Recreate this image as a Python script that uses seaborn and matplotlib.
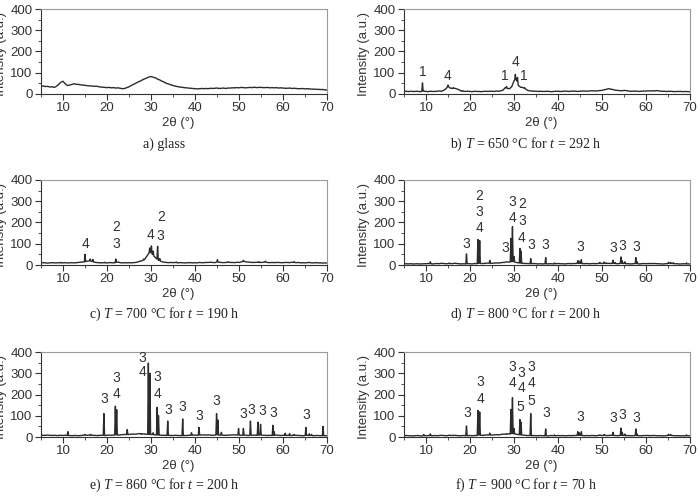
import numpy as np
import pandas as pd
import matplotlib
matplotlib.use("Agg")
import matplotlib.pyplot as plt
from matplotlib.ticker import MultipleLocator
import seaborn as sns

# ---------------- data ----------------
# background sampling grid: 5.0, 5.5, ..., 70.0 deg (each row below = 5 deg)
two_theta = np.arange(5.0, 70.25, 0.5)

bg_a = [36, 38, 35, 36, 33, 34, 31, 36, 45, 55,
        60, 48, 40, 42, 45, 48, 46, 45, 43, 42,
        41, 39, 38, 38, 36, 37, 35, 33, 32, 31,
        30, 31, 29, 30, 28, 29, 27, 25, 26, 30,
        34, 40, 45, 50, 56, 60, 66, 71, 75, 80,
        82, 79, 76, 70, 66, 60, 56, 50, 47, 43,
        40, 37, 35, 33, 32, 30, 29, 28, 27, 26,
        25, 24, 25, 26, 25, 26, 25, 27, 26, 27,
        28, 26, 27, 28, 26, 28, 28, 29, 29, 30,
        29, 31, 30, 29, 30, 31, 30, 32, 30, 31,
        31, 30, 30, 31, 29, 30, 29, 30, 28, 29,
        28, 27, 27, 28, 26, 27, 26, 25, 25, 26,
        24, 25, 24, 23, 23, 22, 22, 21, 21, 20,
        18]
bg_b = [12, 13, 11, 13, 12, 12, 13, 11, 12, 14,
        12, 11, 13, 12, 12, 13, 14, 13, 17, 24,
        36, 28, 26, 27, 24, 20, 14, 13, 12, 13,
        12, 11, 13, 12, 12, 11, 12, 13, 12, 13,
        13, 12, 14, 13, 15, 18, 30, 26, 25, 35,
        62, 70, 40, 32, 30, 26, 18, 15, 14, 13,
        13, 12, 13, 12, 12, 13, 12, 11, 12, 13,
        13, 12, 12, 14, 13, 12, 13, 14, 13, 12,
        13, 14, 14, 13, 14, 15, 15, 14, 15, 16,
        17, 20, 22, 25, 23, 21, 18, 17, 16, 15,
        17, 16, 14, 13, 13, 14, 13, 12, 13, 14,
        14, 15, 14, 15, 15, 16, 14, 13, 13, 12,
        12, 13, 12, 11, 12, 12, 12, 11, 12, 11,
        11]
bg_c = [10, 11, 10, 9, 10, 11, 10, 10, 11, 10,
        10, 11, 10, 10, 11, 10, 11, 12, 13, 14,
        15, 18, 20, 17, 14, 12, 11, 10, 11, 10,
        10, 11, 11, 10, 12, 14, 11, 10, 11, 10,
        11, 10, 11, 12, 14, 18, 20, 25, 40, 55,
        60, 45, 35, 25, 20, 15, 13, 12, 11, 12,
        11, 12, 10, 11, 11, 10, 10, 11, 11, 10,
        11, 10, 12, 11, 11, 12, 12, 13, 12, 11,
        14, 13, 12, 11, 12, 13, 12, 12, 11, 13,
        12, 14, 18, 15, 14, 13, 12, 12, 13, 12,
        12, 13, 14, 12, 11, 12, 11, 12, 12, 11,
        11, 12, 12, 11, 13, 12, 11, 12, 10, 11,
        10, 11, 12, 10, 10, 11, 10, 10, 9, 10,
        9]
bg_d = [5, 6, 5, 6, 5, 5, 6, 5, 5, 6,
        6, 7, 6, 5, 6, 7, 6, 8, 7, 6,
        6, 7, 6, 8, 7, 6, 5, 6, 5, 6,
        6, 5, 7, 6, 8, 7, 7, 8, 9, 8,
        8, 9, 10, 9, 11, 12, 13, 14, 14, 16,
        15, 12, 10, 9, 8, 7, 7, 6, 6, 7,
        6, 5, 6, 5, 6, 5, 6, 6, 5, 6,
        7, 6, 6, 5, 6, 7, 6, 7, 7, 8,
        8, 7, 6, 7, 6, 6, 7, 6, 7, 8,
        7, 8, 7, 8, 7, 8, 7, 6, 7, 8,
        7, 6, 6, 5, 6, 7, 6, 5, 6, 7,
        6, 7, 6, 7, 7, 6, 6, 5, 5, 6,
        7, 8, 7, 6, 6, 5, 5, 6, 5, 5,
        5]
bg_e = [9, 8, 8, 9, 8, 7, 8, 7, 7, 8,
        7, 8, 7, 7, 6, 7, 7, 6, 7, 8,
        9, 8, 9, 8, 8, 7, 7, 8, 8, 7,
        8, 9, 8, 9, 10, 9, 10, 11, 12, 11,
        12, 13, 14, 13, 15, 16, 15, 14, 13, 12,
        12, 11, 10, 9, 9, 8, 8, 7, 8, 7,
        7, 8, 7, 7, 6, 7, 7, 8, 8, 9,
        9, 8, 9, 10, 10, 9, 10, 9, 8, 9,
        10, 9, 9, 8, 8, 9, 9, 10, 10, 9,
        9, 8, 8, 9, 7, 8, 8, 9, 8, 9,
        9, 8, 8, 7, 8, 7, 8, 9, 8, 7,
        8, 7, 8, 7, 7, 8, 8, 7, 7, 6,
        7, 8, 7, 7, 6, 7, 7, 6, 6, 6,
        6]
bg_f = [6, 7, 6, 6, 5, 6, 7, 6, 5, 6,
        6, 7, 6, 6, 7, 6, 7, 8, 7, 6,
        7, 8, 7, 8, 7, 6, 6, 7, 6, 6,
        7, 6, 7, 7, 9, 8, 8, 9, 10, 9,
        9, 10, 11, 10, 12, 13, 14, 15, 14, 16,
        15, 13, 11, 10, 9, 8, 7, 7, 6, 7,
        6, 6, 7, 6, 6, 5, 6, 7, 6, 6,
        7, 6, 7, 6, 6, 7, 6, 7, 7, 8,
        8, 7, 6, 7, 6, 7, 7, 6, 7, 8,
        7, 8, 7, 7, 8, 7, 7, 6, 7, 8,
        7, 6, 7, 6, 6, 7, 6, 6, 6, 7,
        7, 7, 6, 7, 7, 6, 6, 6, 5, 6,
        7, 8, 7, 6, 6, 6, 5, 6, 5, 6,
        5]

pk_a_pos = []
pk_a_h = []
pk_b_pos = [9.2, 15.0, 16.2, 18.3, 28.3, 30.3, 30.8, 31.8, 32.4]
pk_b_h = [52, 42, 30, 16, 35, 92, 78, 32, 30]
pk_c_pos = [9.5, 15.0, 16.2, 16.8, 19.5, 22.0, 28.3, 29.7, 30.1, 30.5, 31.5, 32.0, 35.8,
            45.1, 47.5, 51.0, 54.5, 56.0, 62.5, 66.0]
pk_c_h = [12, 50, 28, 26, 13, 28, 28, 80, 90, 65, 88, 30, 14, 25, 15, 22, 16, 18, 16, 12]
pk_d_pos = [11.0, 15.2, 16.5, 19.2, 21.8, 22.2, 24.5, 27.8, 28.3, 29.3, 29.65, 30.0, 31.35,
            31.6, 33.8, 37.2, 39.2, 44.5, 44.8, 45.3, 49.5, 50.5, 51.0, 52.5, 53.0, 54.3,
            54.6, 55.2, 57.7, 58.0, 61.0, 65.1, 65.6, 66.2, 69.2]
pk_d_h = [15, 9, 9, 52, 120, 115, 22, 12, 15, 125, 180, 40, 78, 65, 30, 35, 10, 20, 18, 25,
          12, 14, 10, 22, 12, 38, 20, 15, 35, 15, 8, 13, 12, 11, 10]
pk_e_pos = [11.1, 15.0, 16.3, 19.3, 21.9, 22.2, 24.6, 27.8, 28.5, 29.4, 29.75, 30.5, 31.4,
            31.7, 33.8, 37.2, 39.2, 40.9, 44.9, 45.2, 46.0, 48.5, 49.9, 51.0, 52.6, 54.3,
            54.9, 57.7, 58.0, 60.5, 61.5, 62.5, 65.2, 66.0, 66.5, 69.1]
pk_e_h = [25, 12, 12, 110, 145, 128, 35, 12, 15, 348, 300, 20, 140, 100, 75, 85, 20, 45,
          110, 80, 22, 10, 40, 40, 75, 70, 60, 55, 25, 18, 16, 12, 45, 15, 12, 50]
pk_f_pos = [9.5, 11.0, 15.2, 16.5, 19.2, 21.8, 22.2, 24.5, 28.3, 29.3, 29.65, 30.0, 31.35,
            31.6, 33.8, 37.2, 39.2, 44.5, 44.8, 45.3, 49.5, 50.5, 52.5, 54.3, 54.6, 55.2,
            57.7, 58.0, 65.1, 65.6, 69.2]
pk_f_h = [12, 15, 8, 8, 52, 125, 118, 18, 12, 130, 185, 40, 82, 70, 110, 38, 10, 25, 20,
          25, 10, 12, 22, 42, 22, 14, 38, 14, 13, 12, 10]

# phase labels: (2theta, intensity, text)
lab_a = []
lab_b = [(9.2, 105, "1"), (14.8, 85, "4"), (28.0, 85, "1"), (30.4, 152, "4"), (32.3, 85, "1")]
lab_c = [(15.2, 99, "4"), (22.2, 177, "2"), (22.2, 100, "3"), (29.9, 141, "4"),
         (32.1, 136, "3"), (32.3, 227, "2")]
lab_d = [(19.2, 100, "3"), (22.1, 323, "2"), (22.1, 251, "3"), (22.1, 175, "4"),
         (28.0, 78, "3"), (29.7, 295, "3"), (29.7, 222, "4"), (31.8, 285, "2"),
         (31.8, 207, "3"), (31.6, 125, "4"), (33.9, 94, "3"), (37.1, 94, "3"),
         (45.1, 83, "3"), (52.6, 78, "3"), (54.6, 89, "3"), (57.9, 83, "3")]
lab_e = [(19.4, 177, "3"), (22.2, 280, "3"), (22.2, 202, "4"), (28.0, 374, "3"),
         (28.0, 307, "4"), (31.4, 284, "3"), (31.4, 202, "4"), (34.0, 127, "3"),
         (37.1, 141, "3"), (40.9, 99, "3"), (44.9, 169, "3"), (50.9, 107, "3"),
         (52.7, 127, "3"), (55.2, 121, "3"), (57.8, 111, "3"), (65.2, 103, "3")]
lab_f = [(19.4, 111, "3"), (22.3, 260, "3"), (22.3, 179, "4"), (29.7, 329, "3"),
         (29.7, 252, "4"), (31.7, 302, "3"), (31.7, 230, "4"), (31.5, 139, "5"),
         (34.0, 329, "3"), (34.0, 252, "4"), (34.0, 169, "5"), (37.4, 111, "3"),
         (45.0, 96, "3"), (52.6, 91, "3"), (54.6, 103, "3"), (57.9, 91, "3")]

captions = ["a) glass",
            r"b) $T$ = 650 °C for $t$ = 292 h",
            r"c) $T$ = 700 °C for $t$ = 190 h",
            r"d) $T$ = 800 °C for $t$ = 200 h",
            r"e) $T$ = 860 °C for $t$ = 200 h",
            r"f) $T$ = 900 °C for $t$ = 70 h"]

x_ticks = [10, 20, 30, 40, 50, 60, 70]
y_ticks = [0, 100, 200, 300, 400]

# ---------------- style ----------------
sns.set_style("ticks")
plt.rcParams["font.family"] = ["Liberation Sans", "DejaVu Sans"]
plt.rcParams["mathtext.fontset"] = "custom"
plt.rcParams["mathtext.rm"] = "Liberation Serif"
plt.rcParams["mathtext.it"] = "Liberation Serif:italic"

TXT = "#333333"


def build_curve(bx, by, px, ph, hw=0.15):
    bx = np.asarray(bx, float)
    by = np.asarray(by, float)
    keep = np.ones(len(bx), bool)
    for p in px:
        keep &= np.abs(bx - p) > hw
    xs = list(bx[keep])
    ys = list(by[keep])
    for p, h in zip(px, ph):
        xs += [p - hw, p, p + hw]
        ys += [np.interp(p - hw, bx, by), h, np.interp(p + hw, bx, by)]
    order = np.argsort(xs, kind="stable")
    return pd.DataFrame({"x": np.asarray(xs)[order], "y": np.asarray(ys)[order]})


fig = plt.figure(figsize=(7.0, 4.98), dpi=100)
W, H = 700.0, 498.0
lefts = [41, 404]
tops = [9, 180, 352]
aw, ah = 286, 85
cap_x = [164, 526]
cap_y = [144, 314, 485]

panels = [(bg_a, pk_a_pos, pk_a_h, lab_a), (bg_b, pk_b_pos, pk_b_h, lab_b),
          (bg_c, pk_c_pos, pk_c_h, lab_c), (bg_d, pk_d_pos, pk_d_h, lab_d),
          (bg_e, pk_e_pos, pk_e_h, lab_e), (bg_f, pk_f_pos, pk_f_h, lab_f)]

for i, (bg, ppos, ph, labs) in enumerate(panels):
    r, c = divmod(i, 2)
    ax = fig.add_axes([lefts[c] / W, 1 - (tops[r] + ah) / H, aw / W, ah / H])
    df = build_curve(two_theta, bg, ppos, ph)
    sns.lineplot(data=df, x="x", y="y", ax=ax, estimator=None, sort=False,
                 color="#2b2b2b", lw=1.0)
    ax.set_xlim(5, 70)
    ax.set_ylim(0, 400)
    ax.set_xticks(x_ticks)
    ax.set_yticks(y_ticks)
    ax.xaxis.set_minor_locator(MultipleLocator(5))
    ax.yaxis.set_minor_locator(MultipleLocator(50))
    ax.tick_params(which="major", direction="out", length=4, width=0.8,
                   labelsize=9.5, colors=TXT, pad=2)
    ax.tick_params(which="minor", direction="out", length=2, width=0.6, colors=TXT)
    for s in ("left", "bottom"):
        ax.spines[s].set_color("#333333")
        ax.spines[s].set_linewidth(0.8)
    for s in ("top", "right"):
        ax.spines[s].set_color("#9a9a9a")
        ax.spines[s].set_linewidth(0.8)
    ax.set_xlabel("2θ (°)", fontsize=9.5, color=TXT)
    ax.xaxis.label.set_va("center")
    ax.xaxis.set_label_coords(0.48, -29 / ah)
    ax.set_ylabel("Intensity (a.u.)", fontsize=9.5, color=TXT)
    ax.yaxis.label.set_va("center")
    ax.yaxis.set_label_coords(-40 / aw, 0.47)
    for (lx, ly, s) in labs:
        ax.text(lx, ly, s, ha="center", va="center", fontsize=10, color=TXT)
    fig.text(cap_x[c] / W, 1 - cap_y[r] / H, captions[i], ha="center", va="center",
             fontsize=10, color="#222222", family=["Liberation Serif", "DejaVu Serif"])

fig.savefig("out.png", dpi=100)
